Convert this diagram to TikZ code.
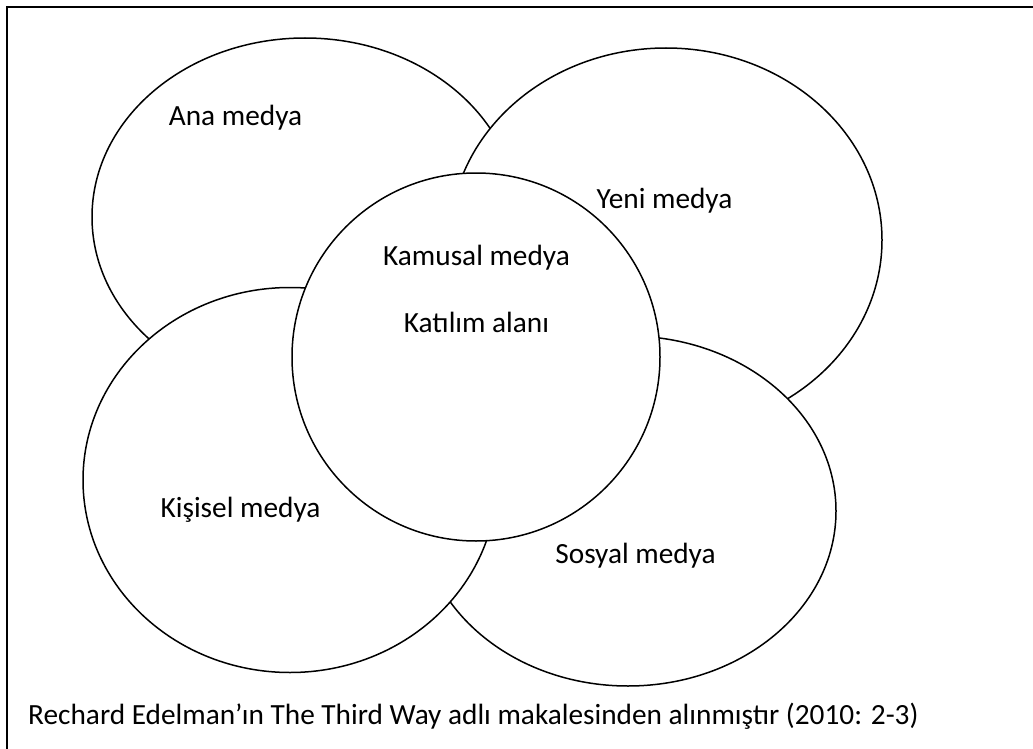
\documentclass[tikz,border=0pt]{standalone}
\usepackage{fontspec}
\setmainfont{Carlito}
\usetikzlibrary{shapes.geometric}
\begin{document}
\begin{tikzpicture}[x=1pt,y=-1pt,
  oval/.style={ellipse,draw=black,fill=white,line width=1.5pt,inner sep=0pt},
  lbl/.style={anchor=base,inner sep=0pt,font=\fontsize{29.3}{34}\selectfont}]
\useasboundingbox (0,0) rectangle (1033,749);
\fill[white] (0,0) rectangle (1033,749);
% frame (only top and left edges visible)
\coordinate (fr) at (7,7);
\coordinate (frR) at (1033,7);
\coordinate (frB) at (7,749);
\draw[line width=2.6pt] (frR) -- (fr) -- (frB);
% ovals, in stacking order
\node[oval,minimum width=426pt,minimum height=358pt] (ana) at (305,217) {};
\node[oval,minimum width=432pt,minimum height=384pt] (yeni) at (666,240) {};
\node[oval,minimum width=416pt,minimum height=350pt] (sosyal) at (628,511) {};
\node[oval,minimum width=414pt,minimum height=385pt] (kisisel) at (290,480) {};
\node[circle,draw=black,fill=white,line width=1.5pt,inner sep=0pt,minimum size=368pt] (kamu) at (476,357) {};
% labels
\node[lbl] (tana) at (235.5,126) {Ana medya};
\node[lbl] (tyeni) at (664.5,208) {Yeni medya};
\node[lbl] (tkamu) at (476.5,265) {Kamusal medya};
\node[lbl] (tkat) at (476.5,332) {Katılım alanı};
\node[lbl] (tkis) at (240.5,517) {Kişisel medya};
\node[lbl] (tsos) at (635.5,563) {Sosyal medya};
\node[lbl,anchor=base west] (cap) at (28,724) {Rechard Edelman’ın The Third Way adlı makalesinden alınmıştır (2010: 2-3)};
\end{tikzpicture}
\end{document}
